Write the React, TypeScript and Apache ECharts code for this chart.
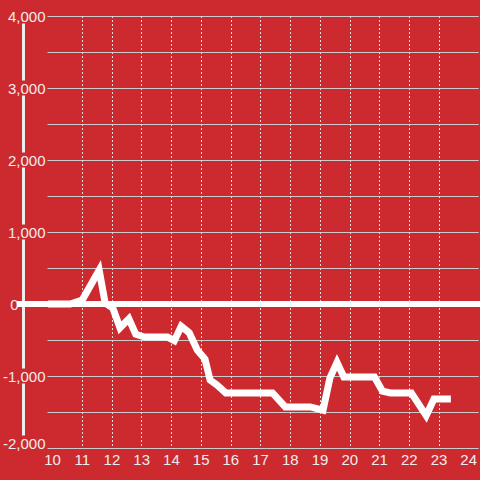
import React, { useEffect, useRef } from "react";
import * as echarts from "echarts";

const hours: number[] = [9.85, 10.6, 11.0, 11.57, 11.77, 12.03, 12.27, 12.57, 12.8, 13.1, 13.87, 14.1, 14.33, 14.6, 14.87, 15.13, 15.3, 15.53, 15.83, 17.4, 17.83, 18.67, 19.1, 19.33, 19.57, 19.8, 20.83, 21.1, 21.37, 22.07, 22.57, 22.83, 23.4];
const values: number[] = [0, 0, 55, 470, 15, -55, -330, -205, -420, -460, -460, -510, -310, -400, -640, -765, -1055, -1125, -1235, -1235, -1430, -1430, -1475, -1030, -810, -1015, -1015, -1210, -1235, -1235, -1550, -1320, -1320];
const xTicks: number[] = [10, 11, 12, 13, 14, 15, 16, 17, 18, 19, 20, 21, 22, 23, 24];
const yLabelValues: number[] = [-2000, -1000, 0, 1000, 2000, 3000, 4000];

const BG = "#cc2a2f";
const FONT = "'Liberation Sans', Arial, sans-serif";

export default function App() {
  const ref = useRef<HTMLDivElement>(null);
  useEffect(() => {
    if (!ref.current) return;
    const chart = echarts.init(ref.current, null, { renderer: "svg" });
    const fmt = (v: number) => v.toLocaleString("en-US");
    chart.setOption({
      animation: false,
      backgroundColor: BG,
      grid: { left: 45, right: 0, top: 16, bottom: 32 },
      xAxis: {
        type: "value",
        min: 9.8333,
        max: 24.3333,
        axisLine: { show: false },
        axisTick: { show: false, customValues: xTicks },
        axisLabel: {
          customValues: xTicks,
          color: "#eeeeee",
          fontSize: 15,
          fontFamily: FONT,
          margin: 4,
        },
        splitLine: {
          show: true,
          showMinLine: false,
          showMaxLine: false,
          lineStyle: { color: "#dddddd", width: 1, type: [2, 2] },
        },
      },
      yAxis: {
        type: "value",
        min: -2000,
        max: 4000,
        interval: 500,
        offset: 24,
        axisLine: { show: true, lineStyle: { color: "#eeeeee", width: 3 } },
        axisTick: { show: false },
        axisLabel: {
          margin: -22,
          color: "#eeeeee",
          fontSize: 15,
          fontFamily: FONT,
          formatter: (v: number) => {
            if (!yLabelValues.includes(v)) return "";
            if (v === 0) return "{z|0}";
            if (v === -2000) return "{b|" + fmt(v) + "}";
            return "{a|" + fmt(v) + "}";
          },
          rich: {
            a: { backgroundColor: BG, color: "#eeeeee", fontSize: 15, fontFamily: FONT, padding: [0, 0, 0, 0] },
            b: { backgroundColor: BG, color: "#eeeeee", fontSize: 15, fontFamily: FONT, padding: [0, 0, 10, 0] },
            z: { color: "#eeeeee", fontSize: 15, fontFamily: FONT, padding: [0, 27, 0, 0] },
          },
        },
        splitLine: { show: true, lineStyle: { color: "#cccccc", width: 1 } },
      },
      series: [
        {
          type: "line",
          data: hours.map((h, i) => [h, values[i]]),
          symbol: "none",
          z: 5,
          lineStyle: { color: "#ffffff", width: 7, join: "miter" },
        },
      ],
    });
    const y0 = chart.convertToPixel({ yAxisIndex: 0 }, 0) as number;
    chart.setOption({
      graphic: [
        {
          type: "line",
          z: 4,
          shape: { x1: 17, y1: y0, x2: 480, y2: y0 },
          style: { stroke: "#ffffff", lineWidth: 6 },
        },
      ],
    });
    return () => chart.dispose();
  }, []);
  return (
    <div
      ref={ref}
      style={{ position: "fixed", left: 0, top: 0, width: 480, height: 480 }}
    />
  );
}
